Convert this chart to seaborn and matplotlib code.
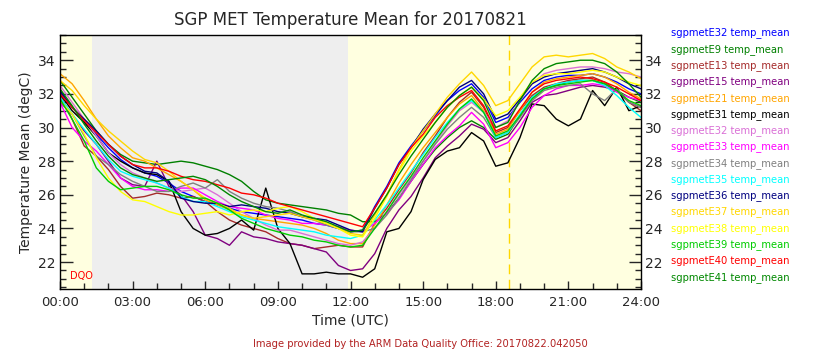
import pandas as pd
import seaborn as sns
import matplotlib.pyplot as plt
from matplotlib.ticker import MultipleLocator

sns.set_style("ticks")
plt.rcParams['font.family'] = ['DejaVu Sans']

# half-hourly readings, 00:00 .. 24:00 UTC
hours = [0, 0.5, 1, 1.5, 2, 2.5, 3, 3.5, 4, 4.5, 5, 5.5, 6, 6.5, 7, 7.5, 8, 8.5,
         9, 9.5, 10, 10.5, 11, 11.5, 12, 12.5, 13, 13.5, 14, 14.5, 15, 15.5, 16,
         16.5, 17, 17.5, 18, 18.5, 19, 19.5, 20, 20.5, 21, 21.5, 22, 22.5, 23, 23.5, 24]

e32_blue = [32.1, 31.2, 30.4, 29.6, 28.8, 28.1, 27.6, 27.3, 27.1, 26.7, 26.2, 25.9, 25.6, 25.4, 25.2, 25.0, 24.9, 24.8,
            24.7, 24.6, 24.5, 24.3, 24.2, 24.0, 23.8, 23.9, 25.3, 26.5, 27.9, 28.9, 29.8, 30.7, 31.6,
            32.2, 32.6, 31.8, 30.3, 30.6, 31.5, 32.3, 32.8, 33.0, 33.1, 33.1, 33.2, 33.0, 32.7, 32.3, 32.0]
e9 = [32.8, 31.8, 30.8, 29.8, 29.0, 28.4, 28.0, 27.9, 27.8, 27.9, 28.0, 27.9, 27.7, 27.5, 27.2, 26.8, 26.2, 25.7,
      25.5, 25.4, 25.3, 25.2, 25.1, 24.9, 24.8, 24.4, 24.4, 24.9, 25.8, 26.8, 27.8, 28.7, 29.4,
      30.0, 30.4, 30.0, 29.3, 29.6, 30.7, 31.8, 32.3, 32.5, 32.7, 32.8, 32.8, 32.6, 32.2, 31.8, 31.5]
e13 = [32.0, 30.5, 28.9, 28.3, 27.5, 26.5, 25.8, 25.9, 26.1, 26.0, 25.8, 25.9, 25.6, 25.0, 24.5, 24.2, 24.0, 23.8,
       23.4, 23.1, 23.0, 22.8, 22.9, 23.0, 22.9, 22.9, 24.3, 25.2, 26.3, 27.3, 28.5, 29.5, 30.6,
       31.5, 32.1, 31.2, 29.7, 30.0, 31.0, 31.9, 32.4, 32.6, 32.8, 32.9, 33.0, 32.7, 32.2, 31.5, 31.0]
e15 = [31.5, 30.8, 29.8, 29.0, 28.0, 27.0, 26.6, 26.5, 28.0, 26.5, 26.0, 25.0, 23.6, 23.4, 23.0, 23.8, 23.5, 23.4,
       23.2, 23.1, 23.0, 22.8, 22.6, 21.8, 21.5, 21.6, 22.5, 24.0, 25.1, 25.9, 27.0, 28.2, 28.9,
       29.5, 30.2, 29.9, 29.1, 29.4, 30.4, 31.5, 31.9, 32.0, 32.2, 32.4, 32.5, 32.4, 32.2, 31.5, 31.2]
e21 = [33.2, 32.6, 31.6, 30.5, 29.5, 28.8, 28.2, 28.0, 27.6, 27.2, 26.8, 26.3, 25.7, 25.4, 25.1, 24.8, 24.6, 24.5,
       24.4, 24.3, 24.2, 24.0, 23.7, 23.3, 23.1, 23.1, 24.2, 25.4, 26.7, 27.8, 28.8, 29.7, 30.6,
       31.4, 31.9, 31.0, 29.6, 29.9, 31.0, 32.1, 32.7, 32.9, 33.0, 33.1, 33.2, 33.0, 32.6, 32.1, 31.7]
e31 = [32.0, 31.0, 30.3, 29.5, 28.5, 28.0, 27.6, 27.3, 27.2, 26.8, 25.0, 24.0, 23.6, 23.7, 24.0, 24.5, 23.9, 26.4,
       24.0, 23.1, 21.3, 21.3, 21.4, 21.3, 21.3, 21.1, 21.6, 23.8, 24.0, 25.0, 26.9, 28.1, 28.6,
       28.8, 29.7, 29.2, 27.7, 27.9, 29.4, 31.4, 31.3, 30.5, 30.1, 30.5, 32.2, 31.3, 32.4, 31.0, 31.3]
e32_orchid = [32.5, 31.5, 30.5, 29.5, 28.5, 27.8, 27.3, 27.0, 26.7, 26.4, 26.2, 26.3, 26.4, 26.0, 25.5, 25.0, 24.6, 24.2,
              23.9, 23.9, 23.7, 23.5, 23.3, 23.1, 23.0, 23.2, 24.0, 25.0, 26.0, 27.0, 28.0, 29.1, 30.1,
              31.0, 31.5, 30.9, 30.0, 30.4, 31.6, 32.6, 33.2, 33.4, 33.5, 33.6, 33.6, 33.5, 33.3, 33.2, 33.0]
e33 = [31.5, 30.0, 29.2, 28.6, 27.8, 27.0, 26.5, 26.3, 26.3, 26.2, 26.4, 26.4, 26.0, 25.6, 25.3, 25.2, 25.1, 24.8,
       24.6, 24.5, 24.3, 24.3, 24.2, 24.1, 23.9, 23.8, 24.3, 24.9, 25.7, 26.8, 27.8, 28.8, 29.5,
       30.1, 30.9, 30.2, 28.8, 29.1, 30.0, 31.2, 31.9, 32.3, 32.5, 32.5, 32.6, 32.5, 32.1, 31.8, 31.6]
e34 = [31.8, 30.8, 29.5, 28.3, 27.8, 27.2, 26.8, 26.5, 26.2, 26.2, 26.5, 26.7, 26.4, 26.9, 26.2, 25.8, 25.5, 25.3,
       25.2, 25.0, 24.7, 24.5, 24.2, 24.0, 23.8, 23.8, 24.0, 24.8, 25.8, 26.9, 28.0, 29.0, 29.9,
       30.6, 31.2, 30.6, 29.4, 29.7, 30.6, 31.6, 32.2, 32.4, 32.5, 32.6, 32.0, 31.6, 32.3, 31.5, 31.2]
e35 = [31.8, 30.8, 29.9, 29.0, 28.1, 27.4, 27.1, 26.9, 26.7, 26.4, 25.9, 25.6, 25.6, 25.3, 25.0, 24.7, 24.5, 24.3,
       24.1, 24.0, 23.9, 23.8, 23.6, 23.5, 23.4, 23.6, 24.5, 25.4, 26.4, 27.4, 28.4, 29.4, 30.3,
       31.1, 31.6, 30.9, 29.4, 29.7, 30.8, 31.8, 32.3, 32.6, 32.7, 32.8, 32.8, 32.5, 31.9, 31.2, 30.6]
e36 = [32.2, 31.2, 30.5, 29.8, 29.0, 28.3, 27.8, 27.4, 27.3, 26.8, 25.8, 25.6, 25.5, 25.5, 25.3, 25.4, 25.3, 25.2,
       25.0, 24.9, 24.7, 24.6, 24.5, 24.2, 23.9, 23.8, 25.2, 26.4, 27.8, 28.8, 29.9, 30.8, 31.6,
       32.4, 32.8, 32.0, 30.5, 30.8, 31.7, 32.6, 33.0, 33.2, 33.3, 33.4, 33.5, 33.3, 33.0, 32.6, 32.3]
e37 = [32.8, 32.2, 31.3, 30.5, 29.8, 29.2, 28.6, 28.1, 27.9, 27.4, 26.8, 26.3, 25.8, 25.5, 25.2, 24.8, 24.6, 24.7,
       24.8, 24.9, 24.7, 24.5, 24.3, 24.0, 23.7, 23.6, 24.8, 26.0, 27.5, 28.8, 29.8, 30.8, 31.8,
       32.6, 33.3, 32.5, 31.3, 31.6, 32.6, 33.6, 34.2, 34.3, 34.2, 34.3, 34.4, 34.1, 33.6, 33.3, 32.9]
e38 = [31.6, 30.8, 29.6, 28.2, 27.0, 26.2, 25.7, 25.6, 25.3, 25.0, 24.8, 24.8, 24.9, 25.0, 24.8, 25.0, 25.1, 25.0,
       25.2, 25.3, 25.0, 24.6, 24.3, 24.0, 23.6, 23.5, 24.6, 25.9, 27.4, 28.6, 29.5, 30.3, 31.2,
       31.9, 32.4, 31.7, 30.7, 31.0, 31.8, 32.7, 33.1, 33.2, 33.2, 33.3, 33.4, 33.3, 33.0, 32.7, 32.5]
e39 = [31.7, 30.5, 29.2, 27.6, 26.8, 26.3, 26.4, 26.5, 26.5, 26.3, 26.0, 25.8, 25.8, 25.5, 25.1, 24.6, 24.3, 24.0,
       23.8, 23.6, 23.5, 23.3, 23.2, 23.0, 22.9, 23.0, 24.0, 25.0, 26.1, 27.1, 28.2, 29.2, 30.2,
       31.1, 31.7, 30.9, 29.5, 29.8, 30.7, 31.7, 32.3, 32.5, 32.6, 32.7, 32.8, 32.6, 32.2, 31.6, 31.3]
e40 = [32.0, 31.2, 30.4, 29.7, 29.0, 28.3, 27.8, 27.6, 27.6, 27.4, 27.1, 26.9, 26.8, 26.6, 26.4, 26.1, 26.0, 25.8,
       25.5, 25.3, 25.1, 24.9, 24.7, 24.5, 24.3, 24.1, 25.2, 26.4, 27.8, 28.8, 29.6, 30.6, 31.3,
       31.8, 32.2, 31.3, 29.8, 30.1, 31.1, 32.1, 32.6, 32.8, 32.9, 33.0, 32.9, 32.7, 32.4, 32.0, 31.6]
e41 = [32.3, 31.3, 30.2, 29.2, 28.3, 27.6, 27.2, 27.0, 26.8, 26.9, 27.0, 27.1, 26.9, 26.5, 26.0, 25.6, 25.3, 25.0,
       24.9, 25.1, 24.8, 24.6, 24.4, 24.1, 23.8, 23.9, 24.9, 26.0, 27.2, 28.3, 29.3, 30.3, 31.2,
       31.9, 32.4, 31.6, 30.0, 30.3, 31.6, 32.8, 33.5, 33.8, 33.9, 34.0, 34.0, 33.8, 33.3, 32.6, 31.8]

labels = ["sgpmetE32 temp_mean", "sgpmetE9 temp_mean", "sgpmetE13 temp_mean", "sgpmetE15 temp_mean",
          "sgpmetE21 temp_mean", "sgpmetE31 temp_mean", "sgpmetE32 temp_mean", "sgpmetE33 temp_mean",
          "sgpmetE34 temp_mean", "sgpmetE35 temp_mean", "sgpmetE36 temp_mean", "sgpmetE37 temp_mean",
          "sgpmetE38 temp_mean", "sgpmetE39 temp_mean", "sgpmetE40 temp_mean", "sgpmetE41 temp_mean"]
colors = ["#0000ff", "#008000", "#a52a2a", "#800080", "#ffa500", "#000000", "#da70d6", "#ff00ff",
          "#808080", "#00ffff", "#000080", "#ffd700", "#ffff00", "#00cc00", "#ff0000", "#008800"]
series = [e32_blue, e9, e13, e15, e21, e31, e32_orchid, e33, e34, e35, e36, e37, e38, e39, e40, e41]

W, H = 840, 350
fig = plt.figure(figsize=(W / 100, H / 100), dpi=100)
ax = fig.add_axes([60 / W, 1 - 289 / H, (641 - 60) / W, (289 - 35) / H])
ax.set_facecolor("#ffffe0")
ax.axvspan(1.32, 11.9, color="#eeeeee", lw=0, zorder=0)
ax.axvline(18.55, color="#ffd700", lw=1, ls=(0, (7, 4)), zorder=1)

for col, vals in zip(colors, series):
    df = pd.DataFrame({"hour": hours, "temp": vals})
    sns.lineplot(data=df, x="hour", y="temp", color=col, lw=1, ax=ax, zorder=2)

ax.set_xlim(0, 24)
ax.set_ylim(20.4, 35.5)
ax.xaxis.set_minor_locator(MultipleLocator(1))
ax.set_xticks(range(0, 25, 3))
ax.set_xticklabels(["%02d:00" % h for h in range(0, 25, 3)])
ax.yaxis.set_major_locator(MultipleLocator(2))
ax.yaxis.set_minor_locator(MultipleLocator(0.5))
ax.tick_params(axis="y", which="both", direction="in", left=True, right=True,
               labelleft=True, labelright=True, labelsize=10, pad=3)
ax.tick_params(axis="y", which="major", length=9, width=1)
ax.tick_params(axis="y", which="minor", length=4.5, width=1)
ax.tick_params(axis="x", which="both", direction="in", bottom=True, top=False, labelsize=9.5, pad=5)
ax.tick_params(axis="x", which="major", length=6, width=1)
ax.tick_params(axis="x", which="minor", length=4, width=1)
for s in ax.spines.values():
    s.set_color("black")
    s.set_linewidth(1)

ax.set_xlabel("Time (UTC)", fontsize=10, labelpad=3)
ax.set_ylabel("Temperature Mean (degC)", fontsize=10, labelpad=4)
ax.text(0.018, 0.03, "DQO", transform=ax.transAxes, color="red", fontsize=7, ha="left", va="bottom")

fig.text(350 / W, 1 - 20 / H, "SGP MET Temperature Mean for 20170821", ha="center", va="center", fontsize=12)

for i, (lab, col) in enumerate(zip(labels, colors)):
    fig.text(671 / W, 1 - (33 + i * 16.27) / H, lab, color=col, fontsize=7.2, ha="left", va="center")

fig.text(420 / W, 1 - 344 / H, "Image provided by the ARM Data Quality Office: 20170822.042050",
         color="#b22222", fontsize=7.2, ha="center", va="center")

fig.savefig("out.png", dpi=100)
